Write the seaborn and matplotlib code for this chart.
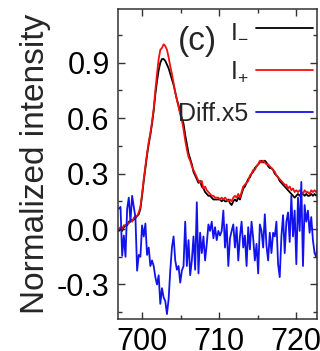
import numpy as np
import pandas as pd
import matplotlib
matplotlib.use("Agg")
import matplotlib.pyplot as plt
import seaborn as sns
from matplotlib.ticker import MultipleLocator

# Photon energy grid (eV)
energy = np.round(697.0 + 0.215 * np.arange(121), 3)

# I- (black)
i_minus = [
    -0.01, 0.00, -0.01, 0.01, 0.02, 0.02, 0.04, 0.04, 0.05, 0.05,
    0.06, 0.07, 0.08, 0.11, 0.18, 0.26, 0.33, 0.40, 0.46, 0.51,
    0.57, 0.64, 0.73, 0.80, 0.86, 0.90, 0.92, 0.92, 0.91, 0.89,
    0.87, 0.84, 0.81, 0.78, 0.74, 0.70, 0.67, 0.63, 0.60, 0.57,
    0.51, 0.46, 0.41, 0.38, 0.35, 0.31, 0.29, 0.27, 0.25, 0.26,
    0.23, 0.22, 0.20, 0.19, 0.18, 0.18, 0.17, 0.16, 0.16, 0.16,
    0.16, 0.16, 0.15, 0.16, 0.15, 0.15, 0.16, 0.14, 0.13, 0.15,
    0.16, 0.15, 0.17, 0.16, 0.19, 0.22, 0.23, 0.25, 0.27, 0.28,
    0.30, 0.31, 0.33, 0.34, 0.35, 0.36, 0.37, 0.36, 0.37, 0.36,
    0.34, 0.33, 0.33, 0.32, 0.30, 0.29, 0.28, 0.26, 0.25, 0.24,
    0.23, 0.22, 0.21, 0.20, 0.19, 0.18, 0.17, 0.18, 0.19, 0.18,
    0.19, 0.19, 0.18, 0.19, 0.18, 0.18, 0.19, 0.18, 0.19, 0.18,
    0.19,
]

# I+ (red)
i_plus = [
    0.00, 0.01, 0.00, 0.02, 0.02, 0.03, 0.03, 0.05, 0.04, 0.06,
    0.07, 0.07, 0.09, 0.12, 0.19, 0.27, 0.34, 0.41, 0.47, 0.52,
    0.58, 0.65, 0.75, 0.84, 0.92, 0.97, 0.98, 1.00, 0.99, 0.97,
    0.93, 0.88, 0.84, 0.79, 0.74, 0.70, 0.66, 0.62, 0.59, 0.54,
    0.48, 0.43, 0.39, 0.37, 0.34, 0.32, 0.30, 0.28, 0.26, 0.25,
    0.26, 0.22, 0.23, 0.21, 0.20, 0.19, 0.18, 0.18, 0.17, 0.17,
    0.17, 0.16, 0.17, 0.16, 0.17, 0.16, 0.15, 0.16, 0.15, 0.17,
    0.18, 0.17, 0.19, 0.17, 0.20, 0.23, 0.24, 0.25, 0.26, 0.29,
    0.30, 0.32, 0.32, 0.34, 0.35, 0.37, 0.36, 0.37, 0.36, 0.35,
    0.35, 0.34, 0.33, 0.32, 0.31, 0.29, 0.28, 0.27, 0.26, 0.25,
    0.24, 0.24, 0.22, 0.23, 0.21, 0.22, 0.20, 0.21, 0.20, 0.21,
    0.20, 0.19, 0.21, 0.20, 0.20, 0.19, 0.21, 0.20, 0.21, 0.20,
    0.21,
]

# Difference (I+ - I-) magnified x5 (blue)
diff_x5 = [
    0.11, 0.12, -0.145, -0.035, -0.15, 0.11, 0.17, 0.04, 0.18, 0.12,
    0.064, -0.225, -0.14, -0.15, 0.02, -0.04, 0.03, -0.14, -0.10, -0.20,
    -0.17, -0.20, -0.26, -0.30, -0.25, -0.405, -0.32, -0.37, -0.39, -0.46,
    -0.38, -0.225, -0.10, -0.04, -0.17, -0.22, -0.20, -0.29, -0.225, -0.20,
    0.04, -0.20, -0.06, -0.25, -0.17, -0.04, -0.22, 0.145, -0.24, -0.02,
    -0.13, -0.04, -0.17, -0.08, 0.025, -0.01, 0.04, -0.05, 0.01, -0.06,
    -0.01, -0.035, -0.01, 0.10, -0.10, 0.025, -0.20, -0.05, -0.01, 0.025,
    -0.10, 0.01, -0.17, -0.04, 0.04, -0.10, -0.035, -0.20, 0.01, -0.11,
    0.04, -0.05, -0.17, -0.08, -0.24, 0.025, -0.01, -0.10, 0.08, -0.09,
    -0.17, -0.02, -0.13, -0.02, -0.04, 0.04, -0.19, -0.26, -0.04, 0.075,
    -0.13, 0.04, 0.09, -0.07, 0.18, -0.04, 0.10, -0.19, 0.17, -0.01,
    0.255, -0.20, 0.13, 0.04, 0.10, -0.02, 0.065, -0.06, -0.13, -0.15,
    -0.06,
]

labels = [r"$\mathrm{I}_{-}$", r"$\mathrm{I}_{+}$", "Diff.x5"]
colors = ["black", "#f01010", "#1212ec"]
x_ticks = [700, 710, 720]
y_ticks = [-0.3, 0.0, 0.3, 0.6, 0.9]

df = pd.DataFrame({"energy": energy, labels[0]: i_minus,
                   labels[1]: i_plus, labels[2]: diff_x5})

sns.set_style("ticks")
plt.rcParams["font.family"] = ["Liberation Sans", "DejaVu Sans"]
plt.rcParams["mathtext.fontset"] = "custom"
plt.rcParams["mathtext.rm"] = "Liberation Sans"
plt.rcParams["mathtext.it"] = "Liberation Sans:italic"

fig = plt.figure(figsize=(3.2, 3.51), dpi=100)
ax = fig.add_axes([0.369, 0.091, 0.622, 0.883])

for lab, col in zip(labels, colors):
    sns.lineplot(data=df, x="energy", y=lab, ax=ax, color=col,
                 linewidth=1.3, label=lab)

ax.set_xlim(696.9, 722.7)
ax.set_ylim(-0.487, 1.19)
ax.set_xticks(x_ticks)
ax.set_yticks(y_ticks)
ax.set_yticklabels([f"{v:.1f}" for v in y_ticks])
ax.xaxis.set_minor_locator(MultipleLocator(5))
ax.yaxis.set_minor_locator(MultipleLocator(0.15))
ax.tick_params(which="both", direction="in", top=True, right=True,
               width=1.0, colors="#333333", labelcolor="black")
ax.tick_params(which="major", length=5, labelsize=22, pad=6)
ax.tick_params(which="minor", length=3)
for s in ax.spines.values():
    s.set_linewidth(1.1)
    s.set_color("#333333")

ax.set_xlabel("")
ax.set_ylabel("Normalized intensity", fontsize=24, labelpad=4)

ax.text(0.40, 0.895, "(c)", transform=ax.transAxes, fontsize=24,
        ha="center", va="center")

leg = ax.legend(loc="upper right", bbox_to_anchor=(1.0, 0.985),
                markerfirst=False, frameon=False,
                fontsize=18, handlelength=2.3, handletextpad=0.3,
                labelspacing=0.72, borderpad=0.1, borderaxespad=0.05)

fig.savefig("out.png", dpi=100)
